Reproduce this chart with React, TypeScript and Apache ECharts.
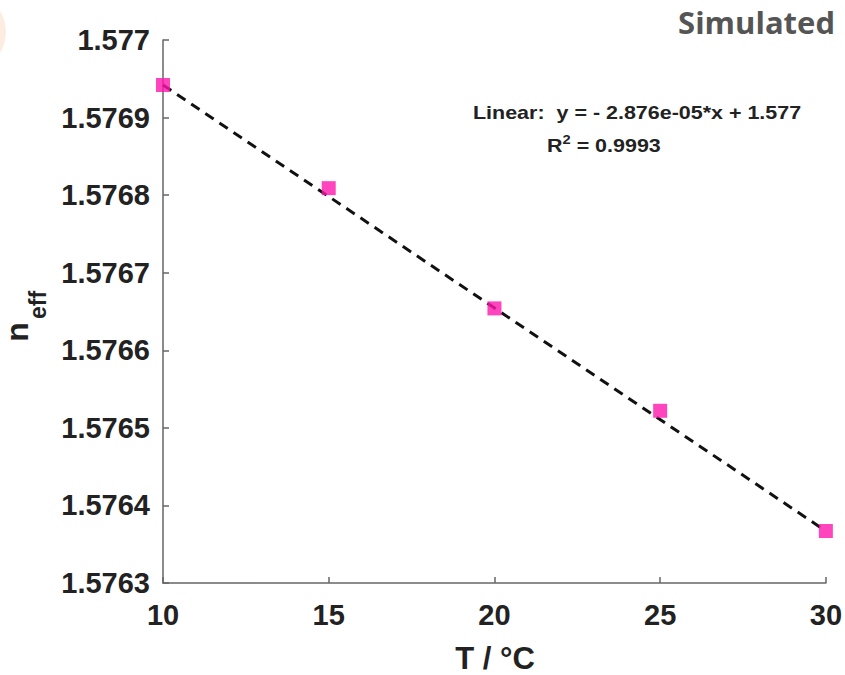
import React, { useEffect, useRef } from "react";
import * as echarts from "echarts";

const temperatures = [10, 15, 20, 25, 30];
const nEff = [1.576942, 1.576809, 1.576654, 1.576522, 1.576367];
const fitX = [10, 30];
const fitY = [1.576942, 1.576367];
const equationText = "Linear:  y = - 2.876e-05*x + 1.577";
const r2Text = "0.9993";
const titleText = "Simulated";
const xAxisTitle = "T / °C";

export default function App() {
  const ref = useRef<HTMLDivElement>(null);
  useEffect(() => {
    if (!ref.current) return;
    const chart = echarts.init(ref.current, undefined, { renderer: "svg" });
    const font = "'Liberation Sans', Arial, sans-serif";
    const textColor = "#222";
    const axisColor = "#666";
    chart.setOption({
      animation: false,
      backgroundColor: "#fff",
      grid: { left: 163, right: 18, top: 40, bottom: 92, containLabel: false },
      xAxis: {
        type: "value",
        min: 10,
        max: 30,
        interval: 5,
        axisLine: { show: true, onZero: false, lineStyle: { color: axisColor, width: 1.5 } },
        axisTick: { show: true, inside: true, length: 6, lineStyle: { color: axisColor, width: 1.5 } },
        splitLine: { show: false },
        axisLabel: { color: textColor, fontFamily: font, fontWeight: "bold", fontSize: 29, margin: 17 },
      },
      yAxis: {
        type: "value",
        min: 1.5763,
        max: 1.577,
        interval: 0.0001,
        axisLine: { show: true, onZero: false, lineStyle: { color: axisColor, width: 1.5 } },
        axisTick: { show: true, inside: true, length: 6, lineStyle: { color: axisColor, width: 1.5 } },
        splitLine: { show: false },
        axisLabel: {
          color: textColor,
          fontFamily: font,
          fontWeight: "bold",
          fontSize: 29,
          margin: 13,
          formatter: (v: number) => String(parseFloat(v.toFixed(4))),
        },
      },
      series: [
        {
          type: "line",
          data: fitX.map((x, i) => [x, fitY[i]]),
          symbol: "none",
          lineStyle: { color: "#111", width: 3, type: [10, 7] },
          z: 2,
        },
        {
          type: "scatter",
          data: temperatures.map((t, i) => [t, nEff[i]]),
          symbol: "rect",
          symbolSize: 14,
          itemStyle: { color: "#ff17ae" },
          z: 3,
        },
      ],
      graphic: [
        {
          type: "circle",
          shape: { cx: -34, cy: 32, r: 40 },
          style: { fill: "#f6b48a", opacity: 0.25 },
        },
        {
          type: "text",
          right: 10,
          top: 6,
          style: {
            text: titleText,
            fontFamily: "'Open Sans', sans-serif",
            fontWeight: "bold",
            fontSize: 31,
            fill: "#555",
          },
        },
        {
          type: "text",
          x: 473,
          y: 112,
          scaleX: 1.13,
          style: {
            text: equationText,
            fontFamily: font,
            fontWeight: "bold",
            fontSize: 19,
            fill: textColor,
            verticalAlign: "middle",
          },
        },
        {
          type: "text",
          x: 547,
          y: 145,
          scaleX: 1.13,
          style: {
            text: "{b|R}{s|2}{b| = " + r2Text + "}",
            verticalAlign: "middle",
            rich: {
              b: { fontFamily: font, fontWeight: "bold", fontSize: 19, fill: textColor, lineHeight: 24 },
              s: { fontFamily: font, fontWeight: "bold", fontSize: 13, fill: textColor, verticalAlign: "top", lineHeight: 24, padding: [0, 0, 9, 0] },
            },
          },
        },
        {
          type: "text",
          x: 17,
          y: 332,
          rotation: Math.PI / 2,
          style: {
            text: "n",
            align: "center",
            verticalAlign: "middle",
            fontFamily: font,
            fontWeight: "bold",
            fontSize: 32,
            fill: textColor,
          },
        },
        {
          type: "text",
          x: 38,
          y: 305,
          rotation: Math.PI / 2,
          style: {
            text: "eff",
            align: "center",
            verticalAlign: "middle",
            fontFamily: font,
            fontWeight: "bold",
            fontSize: 23,
            fill: textColor,
          },
        },
        {
          type: "text",
          x: 495,
          y: 658,
          style: {
            text: xAxisTitle,
            align: "center",
            verticalAlign: "middle",
            fontFamily: font,
            fontWeight: "bold",
            fontSize: 31,
            fill: textColor,
          },
        },
      ],
    });
    return () => chart.dispose();
  }, []);
  return (
    <div
      ref={ref}
      style={{ position: "absolute", left: 0, top: 0, width: 845, height: 675 }}
    />
  );
}
